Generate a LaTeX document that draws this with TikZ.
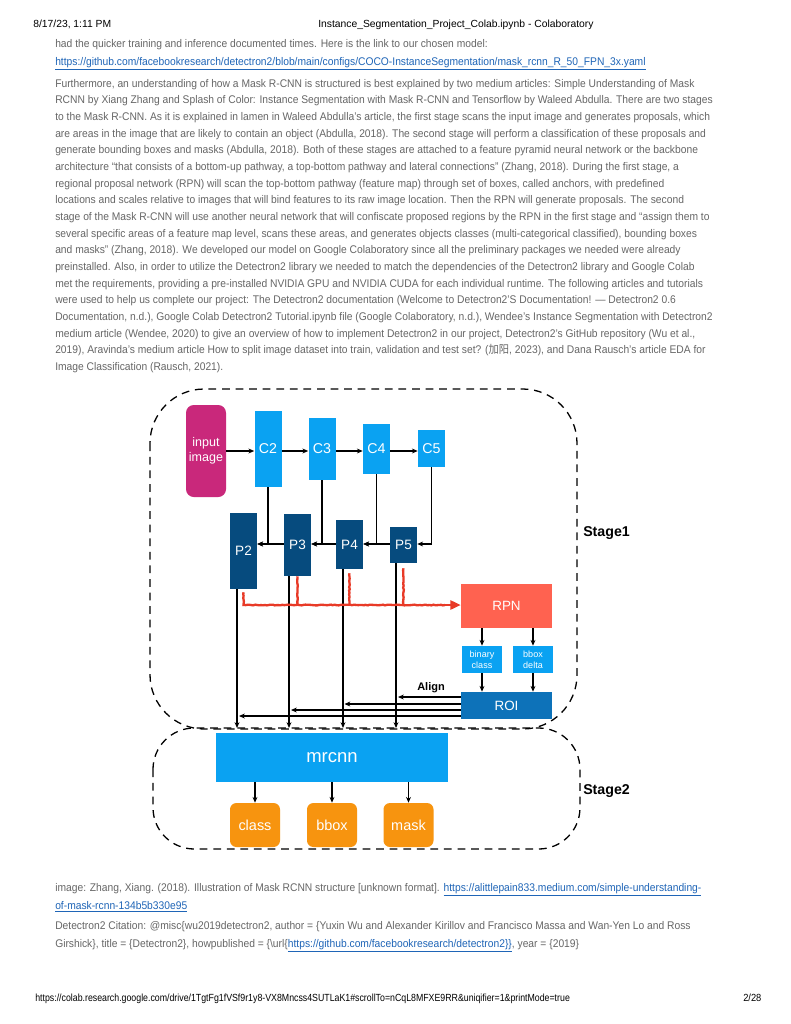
\documentclass[tikz,border=0pt]{standalone}
\usepackage{fontspec}
\usepackage{graphicx}
\setmainfont{Liberation Sans}
\newfontfamily\cjk{Noto Sans CJK SC}
\usetikzlibrary{arrows.meta,decorations.pathmorphing}
\newdimen\pxu \pxu=0.7737pt
\definecolor{bodygray}{HTML}{666666}
\definecolor{linkblue}{HTML}{1F65B7}
\definecolor{magbox}{HTML}{C9287B}
\definecolor{lblue}{HTML}{0AA2F2}
\definecolor{dblue}{HTML}{064B7E}
\definecolor{rpncol}{HTML}{FF6250}
\definecolor{roicol}{HTML}{0D72B9}
\definecolor{orangebox}{HTML}{F7940F}
\definecolor{redline}{HTML}{E83A27}
\newcommand\tl[1]{\scalebox{0.925}[1]{#1}}
\newcommand\lk[1]{{\color{linkblue}\underline{#1}}}
\begin{document}
\begin{tikzpicture}[x=0.7737pt,y=-0.7737pt,
  txt/.style={anchor=base west, inner sep=0, text=bodygray, font=\fontsize{8.6}{9}\selectfont},
  hdr/.style={anchor=base west, inner sep=0, text=black, font=\fontsize{8}{9}\selectfont},
  bx/.style={inner sep=0, text=white, align=center},
  cbox/.style={bx, fill=lblue, minimum width=27\pxu, font=\fontsize{11}{12}\selectfont},
  pbox/.style={bx, fill=dblue, minimum width=27\pxu, font=\fontsize{10.5}{12}\selectfont},
  obox/.style={bx, fill=orangebox, rounded corners=5pt, minimum width=50\pxu, minimum height=44\pxu, font=\fontsize{11.2}{12}\selectfont},
  arr/.style={-{Stealth[length=4.5pt,width=3.8pt]}, line width=0.9pt, black},
  frame/.style={line width=1pt, dash pattern=on 6pt off 4.5pt},
  redl/.style={draw=redline, line width=1.8pt, decorate, decoration={random steps, segment length=1.5pt, amplitude=0.3pt}},
  stlab/.style={anchor=west, inner sep=0, font=\bfseries\fontsize{11}{12}\selectfont}
]
\fill[white] (0,0) rectangle (791,1024);
\useasboundingbox (0,0) rectangle (791,1024);

% header / footer
\node[hdr] (h1) at (33,27) {8/17/23, 1:11 PM};
\node[hdr] (h2) at (318,27) {Instance\_Segmentation\_Project\_Colab.ipynb - Colaboratory};
\node[hdr] (f1) at (35,1001) {\scalebox{0.85}[1]{https://colab.research.google.com/drive/1TgtFg1fVSf9r1y8-VX8Mncss4SUTLaK1\#scrollTo=nCqL8MFXE9RR\&uniqifier=1\&printMode=true}};
\node[hdr] (f2) at (743,1001) {\scalebox{0.9}[1]{2/28}};

% top text
\node[txt] (t0) at (55,47) {\tl{had the quicker training and inference documented times. Here is the link to our chosen model:}};
\node[txt] (t1) at (55,65) {\tl{\lk{https://github.com/facebookresearch/detectron2/blob/main/configs/COCO-InstanceSegmentation/mask\_rcnn\_R\_50\_FPN\_3x.yaml}}};
\node[txt] (p1) at (55,87) {\tl{Furthermore, an understanding of how a Mask R-CNN is structured is best explained by two medium articles: Simple Understanding of Mask}};
\node[txt] (p2) at (55,103.7) {\tl{RCNN by Xiang Zhang and Splash of Color: Instance Segmentation with Mask R-CNN and Tensorflow by Waleed Abdulla. There are two stages}};
\node[txt] (p3) at (55,120.3) {\tl{to the Mask R-CNN. As it is explained in lamen in Waleed Abdulla’s article, the first stage scans the input image and generates proposals, which}};
\node[txt] (p4) at (55,137) {\tl{are areas in the image that are likely to contain an object (Abdulla, 2018). The second stage will perform a classification of these proposals and}};
\node[txt] (p5) at (55,153.7) {\tl{generate bounding boxes and masks (Abdulla, 2018). Both of these stages are attached to a feature pyramid neural network or the backbone}};
\node[txt] (p6) at (55,170.3) {\tl{architecture “that consists of a bottom-up pathway, a top-bottom pathway and lateral connections” (Zhang, 2018). During the first stage, a}};
\node[txt] (p7) at (55,187) {\tl{regional proposal network (RPN) will scan the top-bottom pathway (feature map) through set of boxes, called anchors, with predefined}};
\node[txt] (p8) at (55,203.7) {\tl{locations and scales relative to images that will bind features to its raw image location. Then the RPN will generate proposals. The second}};
\node[txt] (p9) at (55,220.3) {\tl{stage of the Mask R-CNN will use another neural network that will confiscate proposed regions by the RPN in the first stage and “assign them to}};
\node[txt] (p10) at (55,237) {\tl{several specific areas of a feature map level, scans these areas, and generates objects classes (multi-categorical classified), bounding boxes}};
\node[txt] (p11) at (55,253.7) {\tl{and masks” (Zhang, 2018). We developed our model on Google Colaboratory since all the preliminary packages we needed were already}};
\node[txt] (p12) at (55,270.3) {\tl{preinstalled. Also, in order to utilize the Detectron2 library we needed to match the dependencies of the Detectron2 library and Google Colab}};
\node[txt] (p13) at (55,287) {\tl{met the requirements, providing a pre-installed NVIDIA GPU and NVIDIA CUDA for each individual runtime. The following articles and tutorials}};
\node[txt] (p14) at (55,303.7) {\tl{were used to help us complete our project: The Detectron2 documentation (Welcome to Detectron2’S Documentation! — Detectron2 0.6}};
\node[txt] (p15) at (55,320.3) {\tl{Documentation, n.d.), Google Colab Detectron2 Tutorial.ipynb file (Google Colaboratory, n.d.), Wendee’s Instance Segmentation with Detectron2}};
\node[txt] (p16) at (55,337) {\tl{medium article (Wendee, 2020) to give an overview of how to implement Detectron2 in our project, Detectron2’s GitHub repository (Wu et al.,}};
\node[txt] (p17) at (55,353.7) {\tl{2019), Aravinda’s medium article How to split image dataset into train, validation and test set? ({\cjk 加阳}, 2023), and Dana Rausch’s article EDA for}};
\node[txt] (p18) at (55,370.3) {\tl{Image Classification (Rausch, 2021).}};

% bottom text
\node[txt] (b1) at (55,891) {\tl{image: Zhang, Xiang. (2018). Illustration of Mask RCNN structure [unknown format]. \lk{https://alittlepain833.medium.com/simple-understanding-}}};
\node[txt] (b2) at (55,909) {\tl{\lk{of-mask-rcnn-134b5b330e95}}};
\node[txt] (b3) at (55,929) {\tl{Detectron2 Citation: @misc\{wu2019detectron2, author = \{Yuxin Wu and Alexander Kirillov and Francisco Massa and Wan-Yen Lo and Ross}};
\node[txt] (b4) at (55,947) {\tl{Girshick\}, title = \{Detectron2\}, howpublished = \{\textbackslash url\{\lk{https://github.com/facebookresearch/detectron2\}\}}, year = \{2019\}}};

% frames
\draw[frame, rounded corners=42pt] (150,389) rectangle (577,729);
\draw[frame, rounded corners=32pt] (153,728) rectangle (580,849);
\node[stlab] (s1) at (583,533) {Stage1};
\node[stlab] (s2) at (583,791) {Stage2};

% boxes
\node[bx, fill=magbox, rounded corners=6pt, minimum width=40\pxu, minimum height=92\pxu, font=\fontsize{9.7}{11.6}\selectfont] (inp) at (206,451) {input\\image};
\node[cbox, minimum height=76\pxu] (C2) at (268,449) {C2};
\node[cbox, minimum height=62\pxu] (C3) at (322,449) {C3};
\node[cbox, minimum height=50\pxu] (C4) at (376.5,449) {C4};
\node[cbox, minimum height=37\pxu] (C5) at (431.5,448.5) {C5};
\node[pbox, minimum height=76\pxu] (P2) at (243.5,551) {P2};
\node[pbox, minimum height=62\pxu] (P3) at (297.5,545) {P3};
\node[pbox, minimum height=49\pxu] (P4) at (349.5,544.5) {P4};
\node[pbox, minimum height=36\pxu] (P5) at (403.5,545) {P5};
\node[bx, fill=rpncol, minimum width=91\pxu, minimum height=44\pxu, font=\fontsize{10.4}{12}\selectfont] (RPN) at (506.5,606) {RPN};
\node[bx, fill=lblue, minimum width=40\pxu, minimum height=27\pxu, font=\fontsize{7}{8.5}\selectfont] (binc) at (482,659.5) {binary\\class};
\node[bx, fill=lblue, minimum width=40\pxu, minimum height=27\pxu, font=\fontsize{7}{8.5}\selectfont] (bbd) at (533,659.5) {bbox\\delta};
\node[bx, fill=roicol, minimum width=91\pxu, minimum height=27\pxu, font=\fontsize{10.4}{12}\selectfont] (ROI) at (506.5,705.5) {ROI};
\node[bx, fill=lblue, minimum width=232\pxu, minimum height=49\pxu, font=\fontsize{14.3}{16}\selectfont] (mr) at (332,757.5) {mrcnn};
\node[obox] (cls) at (255,825) {class};
\node[obox] (bbx) at (332,825) {bbox};
\node[obox] (msk) at (408.5,825) {mask};
\node[anchor=center, inner sep=0, font=\bfseries\fontsize{8.5}{10}\selectfont] (al) at (431,688) {Align};

% backbone arrows
\coordinate (r1) at (0,451);
\coordinate (h) at (0,544);
\coordinate (m) at (0,728);
\draw[arr] (inp.east|-r1) -- (C2.west|-r1);
\draw[arr] (C2.east|-r1) -- (C3.west|-r1);
\draw[arr] (C3.east|-r1) -- (C4.west|-r1);
\draw[arr] (C4.east|-r1) -- (C5.west|-r1);
\draw[arr] (C2.south) |- (P2.east|-h);
\draw[arr] (C3.south) |- (P3.east|-h);
\draw[arr] (C4.south) |- (P4.east|-h);
\draw[arr] (C5.south) |- (P5.east|-h);
\draw[arr] (P3.west|-h) -- (P2.east|-h);
\draw[arr] (P4.west|-h) -- (P3.east|-h);
\draw[arr] (P5.west|-h) -- (P4.east|-h);

% verticals to mrcnn
\coordinate (v2) at ([xshift=-6.5\pxu]P2.south);
\coordinate (v3) at ([xshift=-8.5\pxu]P3.south);
\coordinate (v4) at ([xshift=-6.5\pxu]P4.south);
\coordinate (v5) at ([xshift=-7.5\pxu]P5.south);
\draw[arr] (v2) -- (v2|-m);
\draw[arr] (v3) -- (v3|-m);
\draw[arr] (v4) -- (v4|-m);
\draw[arr] (v5) -- (v5|-m);

% red RPN feed
\coordinate (rr) at (0,605);
\draw[redl] ([yshift=-3\pxu]P2.south) -- (P2.south|-rr) -- (445,605);
\draw[redl] (P3.south) -- (P3.south|-rr);
\draw[redl] ([yshift=-4\pxu]P4.south) -- (P4.south|-rr);
\draw[redl] ([yshift=-5\pxu]P5.south) -- (P5.south|-rr);
\draw[draw=redline, line width=1.8pt, -{Triangle[length=8pt,width=7pt]}] (440,605) -- (RPN.west|-rr);

% RPN heads
\draw[arr] (RPN.south-|binc) -- (binc.north);
\draw[arr] (RPN.south-|bbd) -- (bbd.north);
\draw[arr] (binc.south) -- (ROI.north-|binc);
\draw[arr] (bbd.south) -- (ROI.north-|bbd);

% ROI align arrows
\coordinate (e5) at (398,697);
\coordinate (e4) at (344.5,704);
\coordinate (e3) at (291,710);
\coordinate (e2) at (239,716);
\draw[arr] (ROI.west|-e5) -- (e5);
\draw[arr] (ROI.west|-e4) -- (e4);
\draw[arr] (ROI.west|-e3) -- (e3);
\draw[arr] (ROI.west|-e2) -- (e2);

% mrcnn outputs
\draw[arr] (mr.south-|cls) -- (cls.north);
\draw[arr] (mr.south-|bbx) -- (bbx.north);
\draw[arr] (mr.south-|msk) -- (msk.north);
\end{tikzpicture}
\end{document}
